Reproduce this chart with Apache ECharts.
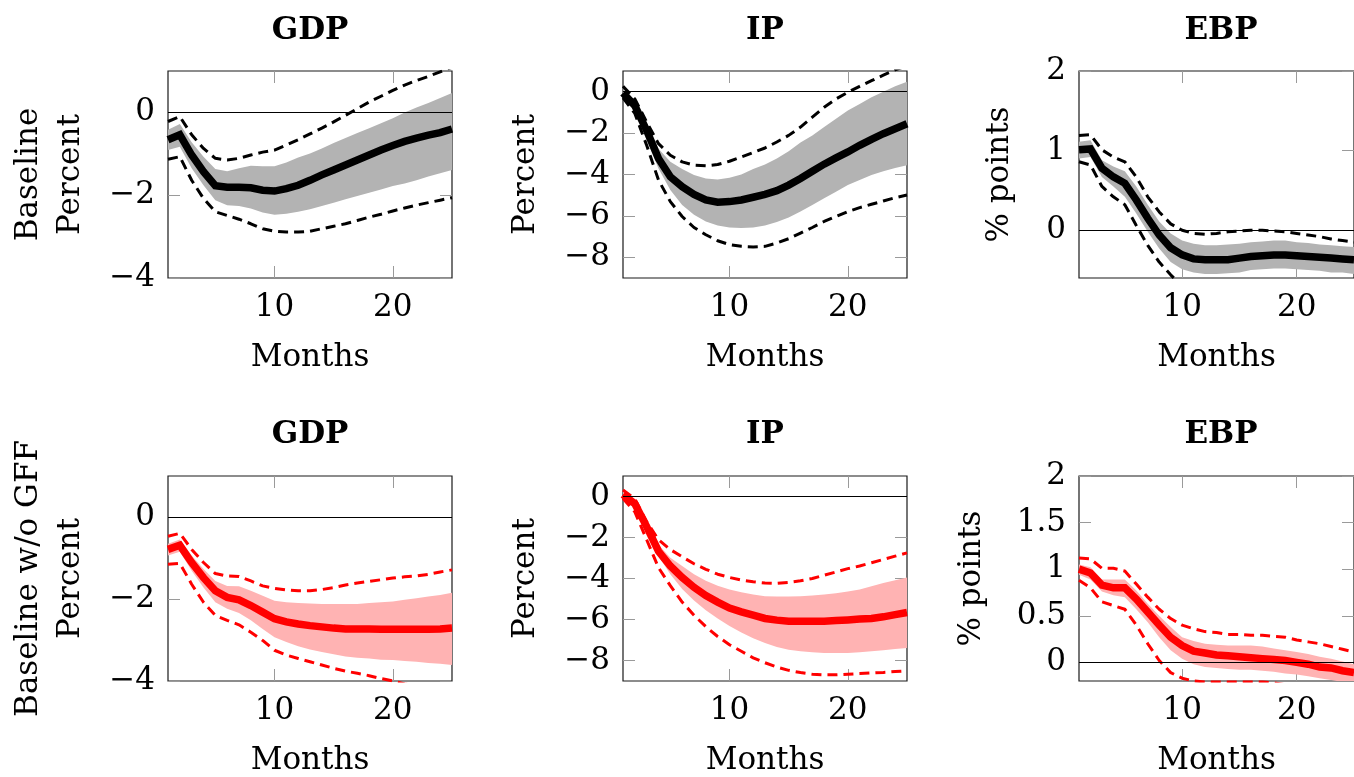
<!DOCTYPE html>
<html><head><meta charset="utf-8">
<script src="https://cdn.jsdelivr.net/npm/echarts@6/dist/echarts.min.js"></script>
<style>html,body{margin:0;padding:0;background:#fff}#chart{width:1354px;height:777px}</style>
</head><body><div id="chart"></div>
<script>
// ---------- data ----------
const months = [1,2,3,4,5,6,7,8,9,10,11,12,13,14,15,16,17,18,19,20,21,22,23,24,25];
const xTicks = [10, 20];
const gdpTicks = [0, -2, -4];
const ipTicks = [0, -2, -4, -6, -8];
const ebpTicksTop = [0, 1, 2];
const ebpTicksBottom = [0, 0.5, 1, 1.5, 2];
const panelTitles = ['GDP', 'IP', 'EBP', 'GDP', 'IP', 'EBP'];
const yNames = ['Baseline\nPercent', 'Percent', '% points', 'Baseline w/o GFF\nPercent', 'Percent', '% points'];
const xName = 'Months';

// Baseline (black)
const gdpBaseMed    = [-0.66,-0.54,-1.03,-1.43,-1.77,-1.81,-1.81,-1.82,-1.88,-1.90,-1.84,-1.76,-1.64,-1.51,-1.39,-1.27,-1.15,-1.03,-0.91,-0.80,-0.70,-0.62,-0.55,-0.49,-0.40];
const gdpBaseBandLo = [-0.91,-0.83,-1.35,-1.76,-2.12,-2.24,-2.26,-2.32,-2.42,-2.47,-2.45,-2.40,-2.34,-2.26,-2.18,-2.10,-2.02,-1.94,-1.86,-1.78,-1.72,-1.64,-1.55,-1.47,-1.39];
const gdpBaseBandHi = [-0.42,-0.28,-0.72,-1.07,-1.37,-1.42,-1.35,-1.29,-1.30,-1.30,-1.21,-1.09,-0.99,-0.87,-0.74,-0.62,-0.50,-0.38,-0.26,-0.14,0.00,0.12,0.23,0.35,0.47];
const gdpBaseDashLo = [-1.13,-1.07,-1.64,-2.08,-2.40,-2.49,-2.58,-2.69,-2.81,-2.87,-2.89,-2.89,-2.87,-2.81,-2.75,-2.69,-2.61,-2.53,-2.46,-2.38,-2.31,-2.24,-2.18,-2.12,-2.06];
const gdpBaseDashHi = [-0.22,-0.10,-0.54,-0.87,-1.11,-1.15,-1.11,-1.03,-0.96,-0.91,-0.79,-0.66,-0.52,-0.38,-0.23,-0.07,0.09,0.25,0.39,0.53,0.66,0.77,0.87,0.98,1.09];

const ipBaseMed    = [-0.06,-0.67,-1.87,-3.23,-4.11,-4.59,-4.96,-5.23,-5.34,-5.31,-5.23,-5.10,-4.96,-4.78,-4.51,-4.19,-3.84,-3.50,-3.20,-2.91,-2.59,-2.30,-2.03,-1.79,-1.55];
const ipBaseBandLo = [-0.27,-0.95,-2.35,-3.71,-4.75,-5.47,-5.95,-6.27,-6.46,-6.56,-6.59,-6.56,-6.46,-6.30,-6.08,-5.79,-5.47,-5.15,-4.83,-4.51,-4.27,-4.03,-3.84,-3.68,-3.55];
const ipBaseBandHi = [0.13,-0.43,-1.55,-2.75,-3.39,-3.74,-4.03,-4.19,-4.24,-4.16,-4.00,-3.74,-3.52,-3.23,-2.88,-2.46,-2.11,-1.71,-1.31,-0.91,-0.59,-0.27,0.00,0.26,0.48];
const ipBaseDashLo = [-0.30,-1.05,-2.59,-4.27,-5.31,-6.03,-6.56,-6.91,-7.20,-7.39,-7.47,-7.50,-7.47,-7.31,-7.10,-6.83,-6.56,-6.27,-6.03,-5.79,-5.60,-5.44,-5.28,-5.12,-4.99];
const ipBaseDashHi = [0.26,-0.35,-1.47,-2.51,-3.07,-3.39,-3.55,-3.58,-3.52,-3.36,-3.15,-2.94,-2.72,-2.43,-2.11,-1.71,-1.23,-0.75,-0.35,-0.03,0.26,0.53,0.80,1.06,1.25];

const ebpBaseMed    = [1.01,1.02,0.78,0.67,0.59,0.38,0.15,-0.06,-0.22,-0.31,-0.36,-0.37,-0.37,-0.37,-0.35,-0.33,-0.32,-0.31,-0.31,-0.32,-0.33,-0.34,-0.35,-0.36,-0.37];
const ebpBaseBandLo = [0.90,0.92,0.67,0.55,0.42,0.21,-0.02,-0.23,-0.40,-0.49,-0.53,-0.55,-0.55,-0.54,-0.53,-0.50,-0.49,-0.48,-0.48,-0.49,-0.50,-0.51,-0.53,-0.53,-0.55];
const ebpBaseBandHi = [1.11,1.13,0.88,0.80,0.74,0.55,0.32,0.11,-0.04,-0.13,-0.17,-0.19,-0.19,-0.18,-0.17,-0.15,-0.14,-0.13,-0.13,-0.15,-0.16,-0.18,-0.19,-0.20,-0.21];
const ebpBaseDashLo = [0.86,0.82,0.55,0.42,0.32,0.06,-0.19,-0.40,-0.56,-0.70,-0.80,-0.85,-0.86,-0.86,-0.85,-0.83,-0.82,-0.81,-0.81,-0.82,-0.83,-0.84,-0.85,-0.86,-0.87];
const ebpBaseDashHi = [1.19,1.20,1.01,0.92,0.86,0.67,0.42,0.23,0.08,0.00,-0.04,-0.05,-0.04,-0.02,-0.01,0.00,0.00,-0.01,-0.02,-0.04,-0.06,-0.08,-0.11,-0.13,-0.15];

// Baseline w/o GFF (red)
const gdpNoGffMed    = [-0.79,-0.69,-1.11,-1.48,-1.80,-1.96,-2.02,-2.16,-2.32,-2.48,-2.56,-2.61,-2.65,-2.68,-2.71,-2.73,-2.73,-2.73,-2.74,-2.74,-2.74,-2.74,-2.74,-2.73,-2.71];
const gdpNoGffBandLo = [-0.94,-0.85,-1.31,-1.72,-2.08,-2.24,-2.34,-2.52,-2.73,-2.93,-3.05,-3.15,-3.23,-3.29,-3.35,-3.40,-3.43,-3.45,-3.48,-3.49,-3.51,-3.53,-3.56,-3.58,-3.61];
const gdpNoGffBandHi = [-0.65,-0.55,-0.94,-1.27,-1.56,-1.68,-1.69,-1.80,-1.92,-2.04,-2.08,-2.10,-2.11,-2.12,-2.12,-2.12,-2.12,-2.10,-2.08,-2.06,-2.02,-1.98,-1.94,-1.90,-1.85];
const gdpNoGffDashLo = [-1.15,-1.13,-1.64,-2.08,-2.40,-2.52,-2.63,-2.81,-3.01,-3.25,-3.37,-3.45,-3.53,-3.61,-3.69,-3.76,-3.81,-3.87,-3.94,-4.00,-4.07,-4.12,-4.16,-4.20,-4.23];
const gdpNoGffDashHi = [-0.47,-0.40,-0.79,-1.11,-1.38,-1.44,-1.45,-1.56,-1.68,-1.74,-1.78,-1.80,-1.80,-1.77,-1.72,-1.66,-1.61,-1.57,-1.53,-1.49,-1.46,-1.44,-1.40,-1.34,-1.29];

const ipNoGffMed    = [0.10,-0.35,-1.47,-2.67,-3.39,-3.95,-4.43,-4.83,-5.15,-5.44,-5.63,-5.79,-5.95,-6.03,-6.08,-6.08,-6.08,-6.08,-6.05,-6.02,-5.98,-5.95,-5.87,-5.76,-5.66];
const ipNoGffBandLo = [-0.06,-0.54,-1.71,-2.91,-3.79,-4.51,-5.07,-5.55,-5.95,-6.32,-6.64,-6.91,-7.15,-7.34,-7.47,-7.55,-7.60,-7.63,-7.63,-7.63,-7.60,-7.55,-7.50,-7.44,-7.39];
const ipNoGffBandHi = [0.26,-0.19,-1.31,-2.35,-2.99,-3.39,-3.79,-4.11,-4.35,-4.54,-4.67,-4.78,-4.86,-4.88,-4.88,-4.86,-4.83,-4.78,-4.72,-4.64,-4.54,-4.38,-4.22,-4.08,-3.95];
const ipNoGffDashLo = [-0.10,-0.75,-2.11,-3.47,-4.35,-5.15,-5.79,-6.35,-6.83,-7.23,-7.55,-7.87,-8.11,-8.32,-8.48,-8.59,-8.67,-8.70,-8.70,-8.67,-8.64,-8.61,-8.58,-8.54,-8.51];
const ipNoGffDashHi = [0.32,-0.11,-1.23,-2.11,-2.59,-2.94,-3.28,-3.55,-3.79,-3.95,-4.08,-4.16,-4.22,-4.24,-4.19,-4.11,-4.00,-3.84,-3.68,-3.52,-3.39,-3.23,-3.07,-2.91,-2.75];

const ebpNoGffMed    = [1.00,0.96,0.83,0.80,0.80,0.68,0.54,0.40,0.27,0.18,0.12,0.10,0.08,0.07,0.06,0.05,0.04,0.03,0.02,0.00,-0.02,-0.05,-0.06,-0.09,-0.11];
const ebpNoGffBandLo = [0.94,0.89,0.76,0.72,0.70,0.57,0.43,0.27,0.13,0.04,-0.02,-0.05,-0.06,-0.07,-0.08,-0.08,-0.09,-0.10,-0.12,-0.13,-0.15,-0.17,-0.19,-0.21,-0.22];
const ebpNoGffBandHi = [1.05,1.02,0.89,0.89,0.89,0.77,0.63,0.50,0.38,0.27,0.23,0.20,0.19,0.18,0.18,0.18,0.17,0.15,0.13,0.11,0.09,0.06,0.04,0.01,-0.02];
const ebpNoGffDashLo = [0.88,0.80,0.65,0.61,0.57,0.40,0.20,0.02,-0.11,-0.17,-0.20,-0.21,-0.21,-0.21,-0.21,-0.21,-0.21,-0.22,-0.24,-0.26,-0.28,-0.30,-0.32,-0.34,-0.36];
const ebpNoGffDashHi = [1.12,1.11,1.01,1.01,0.98,0.84,0.70,0.57,0.47,0.40,0.36,0.33,0.32,0.30,0.30,0.29,0.29,0.28,0.27,0.24,0.22,0.20,0.17,0.14,0.11];

// ---------- layout & style ----------
const FONT = '"DejaVu Serif", serif';
const FS = 31;
const LEFTS = [168, 623, 1079];
const TOPS = [71, 476];
const W = 284, H = 207;
const TITLE_TOPS = [15, 419];
const Y_RANGES = [[-4, 1], [-9, 1], [-0.6, 2], [-4, 1], [-9, 1], [-0.2, 2]];
const Y_TICKS = [gdpTicks, ipTicks, ebpTicksTop, gdpTicks, ipTicks, ebpTicksBottom];
const Y_NAME_GAPS = [76, 76, 58, 76, 76, 86];
const BLACK = {line: '#000000', band: '#b3b3b3'};
const RED = {line: '#ff0000', band: '#ffb3b3'};

const panels = [
  {med: gdpBaseMed, lo: gdpBaseBandLo, hi: gdpBaseBandHi, dlo: gdpBaseDashLo, dhi: gdpBaseDashHi, c: BLACK},
  {med: ipBaseMed, lo: ipBaseBandLo, hi: ipBaseBandHi, dlo: ipBaseDashLo, dhi: ipBaseDashHi, c: BLACK},
  {med: ebpBaseMed, lo: ebpBaseBandLo, hi: ebpBaseBandHi, dlo: ebpBaseDashLo, dhi: ebpBaseDashHi, c: BLACK},
  {med: gdpNoGffMed, lo: gdpNoGffBandLo, hi: gdpNoGffBandHi, dlo: gdpNoGffDashLo, dhi: gdpNoGffDashHi, c: RED},
  {med: ipNoGffMed, lo: ipNoGffBandLo, hi: ipNoGffBandHi, dlo: ipNoGffDashLo, dhi: ipNoGffDashHi, c: RED},
  {med: ebpNoGffMed, lo: ebpNoGffBandLo, hi: ebpNoGffBandHi, dlo: ebpNoGffDashLo, dhi: ebpNoGffDashHi, c: RED}
];

const zip = (vals) => months.map((m, k) => [m, vals[k]]);
const fmt = (v) => String(v).replace('-', '\u2212');

const grids = [], xAxes = [], yAxes = [], series = [], titles = [];
const tickStyle = {show: true, inside: true, length: 12, lineStyle: {color: '#9a9a9a', width: 1}};
const txt = {fontFamily: FONT, fontSize: FS, color: '#000'};
const noLine = {show: false, onZero: false};

function bandRenderer(lo, hi, color) {
  return function (params, api) {
    if (params.dataIndex !== 0) return null;
    const pts = [];
    for (let k = 0; k < months.length; k++) pts.push(api.coord([months[k], hi[k]]));
    for (let k = months.length - 1; k >= 0; k--) pts.push(api.coord([months[k], lo[k]]));
    const cs = params.coordSys;
    return {
      type: 'polygon',
      shape: {points: pts},
      style: {fill: color, stroke: null},
      clipPath: {type: 'rect', shape: {x: cs.x, y: cs.y, width: cs.width, height: cs.height}}
    };
  };
}

panels.forEach((p, i) => {
  const col = i % 3, row = Math.floor(i / 3);
  const left = LEFTS[col], top = TOPS[row];
  grids.push({left: left, top: top, width: W, height: H, show: true, borderColor: '#1a1a1a', borderWidth: 1.2, backgroundColor: 'transparent'});
  titles.push({text: panelTitles[i], left: left + W / 2, top: TITLE_TOPS[row], textAlign: 'center', padding: 0,
    textStyle: {fontFamily: FONT, fontSize: FS, fontWeight: 'bold', color: '#000'}});
  xAxes.push({gridIndex: i, type: 'value', position: 'bottom', min: 1, max: 25,
    axisLine: noLine, splitLine: {show: false},
    axisTick: Object.assign({}, tickStyle, {customValues: xTicks}),
    axisLabel: Object.assign({customValues: xTicks, margin: 14}, txt),
    name: xName, nameLocation: 'middle', nameGap: 64, nameTextStyle: txt});
  xAxes.push({gridIndex: i, type: 'value', position: 'top', min: 1, max: 25,
    axisLine: noLine, splitLine: {show: false},
    axisTick: Object.assign({}, tickStyle, {customValues: xTicks}),
    axisLabel: {show: false}});
  const yt = Y_TICKS[i];
  yAxes.push({gridIndex: i, type: 'value', position: 'left', min: Y_RANGES[i][0], max: Y_RANGES[i][1],
    axisLine: noLine, splitLine: {show: false},
    axisTick: Object.assign({}, tickStyle, {customValues: yt}),
    axisLabel: Object.assign({customValues: yt, margin: 13, formatter: fmt}, txt),
    name: yNames[i], nameLocation: 'middle', nameRotate: 90, nameGap: Y_NAME_GAPS[i],
    nameTextStyle: Object.assign({lineHeight: 42}, txt)});
  yAxes.push({gridIndex: i, type: 'value', position: 'right', min: Y_RANGES[i][0], max: Y_RANGES[i][1],
    axisLine: noLine, splitLine: {show: false},
    axisTick: Object.assign({}, tickStyle, {customValues: yt}),
    axisLabel: {show: false}});
  const xi = 2 * i, yi = 2 * i;
  series.push({type: 'custom', name: 'band' + i, xAxisIndex: xi, yAxisIndex: yi, silent: true, animation: false, z: 1,
    data: months.map((m, k) => [m, p.lo[k], p.hi[k]]), encode: {x: 0, y: [1, 2]},
    renderItem: bandRenderer(p.lo, p.hi, p.c.band)});
  const common = {type: 'line', xAxisIndex: xi, yAxisIndex: yi, symbol: 'none', silent: true, animation: false};
  series.push(Object.assign({}, common, {name: 'dashHi' + i, data: zip(p.dhi), lineStyle: {color: p.c.line, width: 3, type: [10, 6]}, z: 3}));
  series.push(Object.assign({}, common, {name: 'dashLo' + i, data: zip(p.dlo), lineStyle: {color: p.c.line, width: 3, type: [10, 6]}, z: 3}));
  series.push(Object.assign({}, common, {name: 'med' + i, data: zip(p.med), lineStyle: {color: p.c.line, width: 7.5, cap: 'butt', join: 'miter'}, z: 4,
    markLine: {silent: true, symbol: ['none', 'none'], label: {show: false}, animation: false,
      lineStyle: {color: '#000', width: 1.2, type: 'solid'}, data: [{yAxis: 0}]}}));
});

const chart = echarts.init(document.getElementById('chart'), null, {renderer: 'canvas'});
chart.setOption({
  animation: false,
  backgroundColor: '#ffffff',
  title: titles,
  grid: grids,
  xAxis: xAxes,
  yAxis: yAxes,
  series: series
});
</script></body></html>
